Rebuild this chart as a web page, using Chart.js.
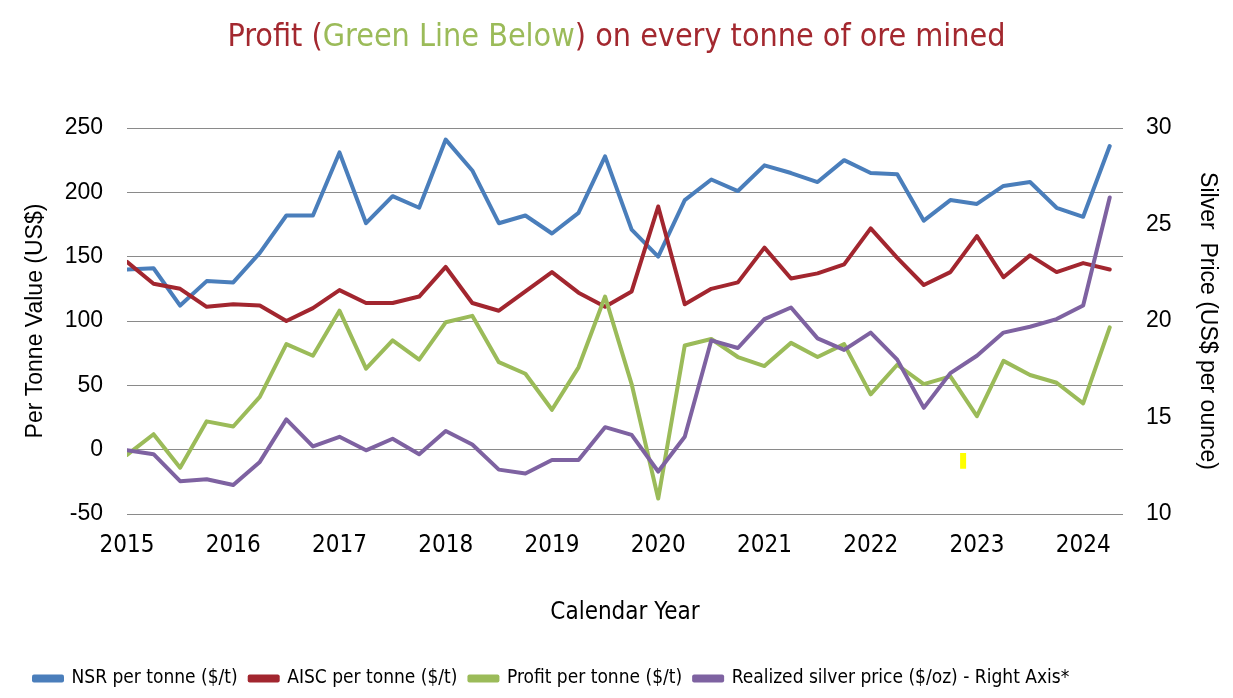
<!DOCTYPE html>
<html>
<head>
<meta charset="utf-8">
<title>Profit per tonne</title>
<script src="https://cdn.jsdelivr.net/npm/chart.js@4.4.0/dist/chart.umd.min.js"></script>
<style>
  body { margin: 0; background: #fff; }
  .wrap { position: relative; width: 1233px; height: 698px; }
  .ttl {
    position: absolute; left: 0; top: 16px; width: 1233px; text-align: center;
    font-family: "Liberation Sans Narrow", "DejaVu Sans Condensed", sans-serif;
    font-size: 32px; color: #A3282F; white-space: nowrap;
  }
  .ttl .g { color: #9BBB59; }
</style>
</head>
<body>
<div class="wrap">
  <div class="ttl">Profit (<span class="g">Green Line Below</span>) on every tonne of ore mined</div>
  <canvas id="myChart" width="1233" height="698"></canvas>
</div>
<script>
// quarterly data, 2015 Q1 ~ 2024 Q2
const quarters = [2015.00, 2015.25, 2015.50, 2015.75, 2016.00, 2016.25, 2016.50, 2016.75,
                  2017.00, 2017.25, 2017.50, 2017.75, 2018.00, 2018.25, 2018.50, 2018.75,
                  2019.00, 2019.25, 2019.50, 2019.75, 2020.00, 2020.25, 2020.50, 2020.75,
                  2021.00, 2021.25, 2021.50, 2021.75, 2022.00, 2022.25, 2022.50, 2022.75,
                  2023.00, 2023.25, 2023.50, 2023.75, 2024.00, 2024.25];

const nsr    = [140, 141, 112, 131, 130, 153, 182, 182, 231, 176, 197, 188, 241, 217, 176, 182,
                168, 184, 228, 171, 150, 194, 210, 201, 221, 215, 208, 225, 215, 214, 178, 194,
                191, 205, 208, 188, 181, 236];
const aisc   = [146, 129, 125, 111, 113, 112, 100, 110, 124, 114, 114, 119, 142, 114, 108, 123,
                138, 122, 111, 123, 189, 113, 125, 130, 157, 133, 137, 144, 172, 149, 128, 138,
                166, 134, 151, 138, 145, 140];
const profit = [-4, 12, -14, 22, 18, 41, 82, 73, 108, 63, 85, 70, 99, 104, 68, 59,
                31, 64, 119, 51, -38, 81, 86, 72, 65, 83, 72, 82, 43, 66, 51, 57,
                26, 69, 58, 52, 36, 95];
const silver = [13.3, 13.1, 11.7, 11.8, 11.5, 12.7, 14.9, 13.5, 14.0, 13.3, 13.9, 13.1, 14.3, 13.6, 12.3, 12.1,
                12.8, 12.8, 14.5, 14.1, 12.2, 14.0, 19.0, 18.6, 20.1, 20.7, 19.1, 18.5, 19.4, 18.0, 15.5, 17.3,
                18.2, 19.4, 19.7, 20.1, 20.8, 26.4];

const seriesNames = ['NSR per tonne ($/t)', 'AISC per tonne ($/t)', 'Profit per tonne ($/t)',
                     'Realized silver price ($/oz) - Right Axis*'];

// little yellow mark below 2023
const markX = [2022.87, 2022.87];
const markY = [-2.6, -14.8];

const narrow = '"Liberation Sans Narrow", "DejaVu Sans Condensed", sans-serif';
const arial = '"Liberation Sans", Arial, sans-serif';

function pts(ys, xs){
	return ys.map((v,i)=>({ x: xs[i], y: v }));
}

function lineSet(label, data, color, axis, order){
	return {
		label: label,
		data: pts(data, quarters),
		borderColor: color,
		backgroundColor: color,
		borderWidth: 4,
		pointRadius: 0,
		tension: 0,
		borderJoinStyle: 'round',
		borderCapStyle: 'round',
		yAxisID: axis,
		order: order
	};
}

const ctx = document.getElementById('myChart');

new Chart(ctx, {
	type: 'line',
	data: {
		datasets: [
			lineSet(seriesNames[0], nsr, '#4A7EBB', 'y', 5),
			lineSet(seriesNames[1], aisc, '#A2262F', 'y', 4),
			lineSet(seriesNames[2], profit, '#9BBB59', 'y', 3),
			lineSet(seriesNames[3], silver, '#7E62A1', 'y2', 2),
			{
				label: 'mark',
				data: pts(markY, markX),
				borderColor: '#FFFF00',
				borderWidth: 6,
				borderCapStyle: 'butt',
				pointRadius: 0,
				yAxisID: 'y',
				order: 1
			}
		]
	},
	options: {
		responsive: false,
		animation: false,
		layout: { padding: { top: 128, left: 22, right: 12, bottom: 0 } },
		plugins: {
			tooltip: { enabled: false },
			legend: {
				position: 'bottom',
				align: 'start',
				labels: {
					font: { family: narrow, size: 19 },
					color: '#000',
					boxWidth: 28,
					boxHeight: 4,
					padding: 12,
					filter: (item)=> item.text !== 'mark',
					sort: (a,b)=> a.datasetIndex - b.datasetIndex
				}
			}
		},
		scales: {
			x: {
				type: 'linear',
				min: 2015,
				max: 2024.375,
				grid: { display: false, drawTicks: false },
				border: { display: false },
				ticks: {
					stepSize: 1,
					includeBounds: false,
					padding: 17,
					maxRotation: 0,
					font: { family: narrow, size: 24 },
					color: '#000',
					callback: (v)=> String(v)
				},
				title: {
					display: true,
					text: 'Calendar Year',
					font: { family: narrow, size: 24 },
					color: '#000',
					padding: { top: 0, bottom: 30 }
				},
				afterFit: (s)=>{
					// keep plot bottom at the -50 line
					let lh = s.chart.legend ? s.chart.legend.height : 40;
					s.height = 698 - 514 - lh;
				}
			},
			y: {
				position: 'left',
				min: -50,
				max: 250,
				grid: { color: '#8A8A8A', lineWidth: 1, drawTicks: false },
				border: { display: false },
				ticks: {
					stepSize: 50,
					padding: 24,
					font: { family: arial, size: 23 },
					color: '#000'
				},
				title: {
					display: true,
					text: 'Per Tonne Value (US$)',
					font: { family: arial, size: 23 },
					color: '#000',
					padding: { top: 0, bottom: 0 }
				},
				afterFit: (s)=>{ s.width = 127 - 22; }
			},
			y2: {
				position: 'right',
				min: 10,
				max: 30,
				grid: { display: false, drawTicks: false },
				border: { display: false },
				ticks: {
					stepSize: 5,
					padding: 23,
					font: { family: arial, size: 23 },
					color: '#000'
				},
				title: {
					display: true,
					text: 'Silver  Price (US$ per ounce)',
					font: { family: arial, size: 23 },
					color: '#000',
					padding: { top: 0, bottom: 0 }
				},
				afterFit: (s)=>{ s.width = 1233 - 12 - 1123; }
			}
		}
	}
});
</script>
</body>
</html>
